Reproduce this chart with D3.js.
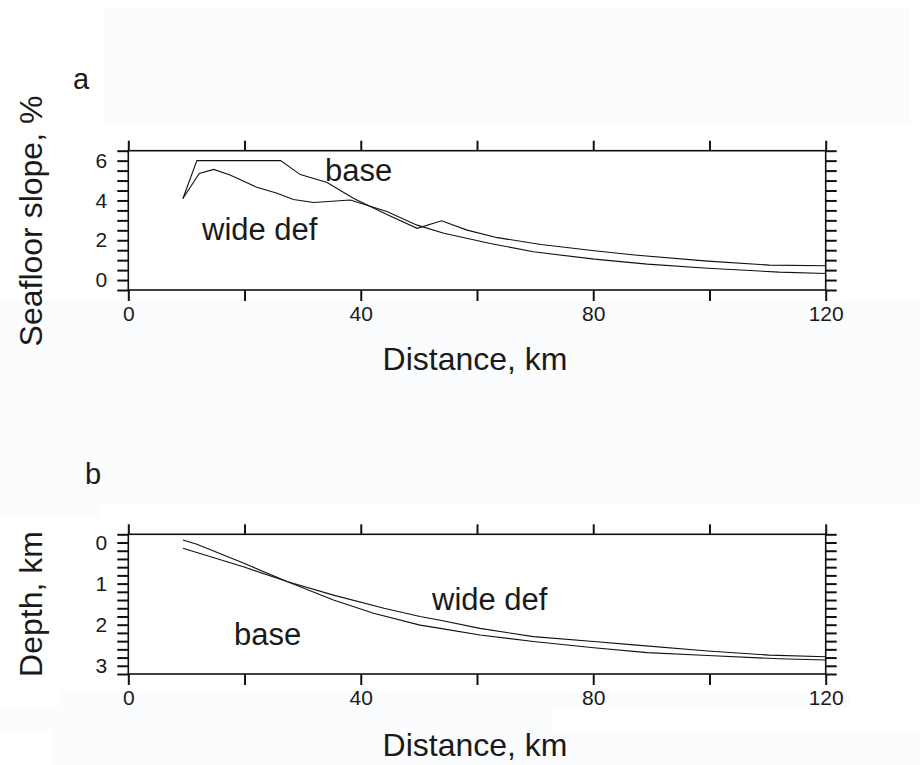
<!DOCTYPE html>
<html><head><meta charset="utf-8">
<script src="https://cdn.jsdelivr.net/npm/d3@7"></script>
<style>body{margin:0;background:#fff}svg{display:block}text{font-family:"Liberation Sans",Arial,Helvetica,sans-serif;fill:#1a1a1a}</style>
</head><body>
<script>
// ---- data ----
const xTickLabels = [0, 40, 80, 120];
const slopeTickLabels = [0, 2, 4, 6];
const depthTickLabels = [0, 1, 2, 3];
const slopeBaseKm  = [9.4, 11.8, 26.2, 29.6, 34.2, 38.8, 44.5, 49.7, 53.9, 58.3, 63.5, 71, 80.2, 87.1, 99.7, 110.3, 120];
const slopeBaseVal = [4.1, 6.0, 6.0, 5.3, 4.9, 4.1, 3.3, 2.6, 2.98, 2.51, 2.13, 1.79, 1.47, 1.26, 0.95, 0.75, 0.72];
const slopeWideKm  = [9.4, 12.2, 14.7, 17.5, 22.1, 25.6, 28.4, 31.9, 38.2, 44.5, 49.7, 54.3, 62.3, 69.7, 80.2, 89.3, 99.7, 112, 120];
const slopeWideVal = [4.1, 5.36, 5.56, 5.28, 4.66, 4.36, 4.05, 3.9, 4.02, 3.45, 2.76, 2.35, 1.84, 1.42, 1.05, 0.8, 0.59, 0.4, 0.33];
const depthBaseKm  = [9.4, 11.8, 19.8, 27.3, 35.3, 42.2, 50.2, 53.7, 60.5, 69.7, 80.1, 89.3, 99.7, 112, 120];
const depthBaseVal = [-0.06, 0.04, 0.5, 0.95, 1.4, 1.72, 2.01, 2.09, 2.25, 2.41, 2.56, 2.68, 2.75, 2.83, 2.86];
const depthWideKm  = [9.4, 19.8, 27.3, 35.3, 44, 50.2, 53.7, 60.5, 69.7, 80.1, 87, 99.7, 110.3, 120];
const depthWideVal = [0.14, 0.59, 0.95, 1.28, 1.6, 1.8, 1.89, 2.09, 2.29, 2.41, 2.49, 2.64, 2.74, 2.78];

const W = 920, H = 765;
const svg = d3.select("body").append("svg").attr("width", W).attr("height", H);

// faint scan tints
const tint = "#fbfcfe";
[[103,7,807,118],[0,300,920,205],[0,505,100,12],[60,690,790,18],[0,708,552,22],[52,730,868,35]].forEach(r=>{
  svg.append("rect").attr("x",r[0]).attr("y",r[1]).attr("width",r[2]).attr("height",r[3]).attr("fill",tint);
});

const x = d3.scaleLinear().domain([0,120]).range([128.3,825.7]);
const xMajor = d3.range(0,121,20);

function panel(y, yTicksAll, yLabels, fmt) {
  const [y0,y1] = y.range();
  const top = Math.min(y0,y1), bot = Math.max(y0,y1);
  const g = svg.append("g");
  g.append("g").attr("transform",`translate(0,${bot})`)
    .call(d3.axisBottom(x).tickValues(xMajor).tickSize(11).tickPadding(5)
      .tickFormat(d => xTickLabels.includes(d) ? d : ""));
  g.append("g").attr("transform",`translate(0,${top})`)
    .call(d3.axisTop(x).tickValues(xMajor).tickSize(10).tickFormat(""));
  g.append("g").attr("transform",`translate(${x.range()[0]},0)`)
    .call(d3.axisLeft(y).tickValues(yTicksAll).tickSize(11).tickPadding(10)
      .tickFormat(d => yLabels.some(v=>Math.abs(v-d)<1e-6) ? fmt(d) : ""));
  g.append("g").attr("transform",`translate(${x.range()[1]},0)`)
    .call(d3.axisRight(y).tickValues(yTicksAll).tickSize(11).tickFormat(""));
  g.selectAll(".domain").remove();
  g.selectAll(".tick line").attr("stroke","#111").attr("stroke-width",2);
  g.selectAll(".tick text").attr("font-size",21).attr("fill","#1a1a1a")
    .style("font-family","'Liberation Sans',Arial,sans-serif");
  g.append("rect").attr("x",x.range()[0]).attr("y",top)
    .attr("width",x.range()[1]-x.range()[0]).attr("height",bot-top)
    .attr("fill","none").attr("stroke","#111").attr("stroke-width",1.6);
  return g;
}

// ---- panel a ----
const ya = d3.scaleLinear().domain([-0.5,6.5]).range([290,150.7]);
const ticksA = d3.range(-0.5, 6.51, 0.5);
const ga = panel(ya, ticksA, slopeTickLabels, d3.format("d"));
const lineA = d3.line().x(d=>x(d[0])).y(d=>ya(d[1]));
ga.append("path").datum(d3.zip(slopeBaseKm, slopeBaseVal)).attr("d",lineA)
  .attr("fill","none").attr("stroke","#111").attr("stroke-width",1.1);
ga.append("path").datum(d3.zip(slopeWideKm, slopeWideVal)).attr("d",lineA)
  .attr("fill","none").attr("stroke","#111").attr("stroke-width",1.1);

// ---- panel b ----
const yb = d3.scaleLinear().domain([-0.2,3.2]).range([534.3,674]);
const ticksB = d3.range(-0.2, 3.21, 0.2).map(v=>Math.round(v*10)/10);
const gb = panel(yb, ticksB, depthTickLabels, d3.format("d"));
const lineB = d3.line().x(d=>x(d[0])).y(d=>yb(d[1]));
gb.append("path").datum(d3.zip(depthBaseKm, depthBaseVal)).attr("d",lineB)
  .attr("fill","none").attr("stroke","#111").attr("stroke-width",1.1);
gb.append("path").datum(d3.zip(depthWideKm, depthWideVal)).attr("d",lineB)
  .attr("fill","none").attr("stroke","#111").attr("stroke-width",1.1);

// ---- text ----
function txt(s, xx, yy, size, anchor, rot) {
  const t = svg.append("text").text(s).attr("font-size",size).attr("text-anchor",anchor||"start");
  if (rot) t.attr("transform",`translate(${xx},${yy}) rotate(${rot})`);
  else t.attr("x",xx).attr("y",yy);
  return t;
}
txt("a", 73, 89, 29);
txt("b", 85, 484, 29);
txt("Seafloor slope, %", 42, 221, 32, "middle", -90);
txt("Depth, km", 42, 604, 32, "middle", -90);
txt("Distance, km", 475, 370, 32, "middle");
txt("Distance, km", 475, 756, 32, "middle");
txt("base", 325, 181, 31);
txt("wide def", 202, 240, 31);
txt("wide def", 432, 610, 31);
txt("base", 234, 645, 31);
</script>
</body></html>
